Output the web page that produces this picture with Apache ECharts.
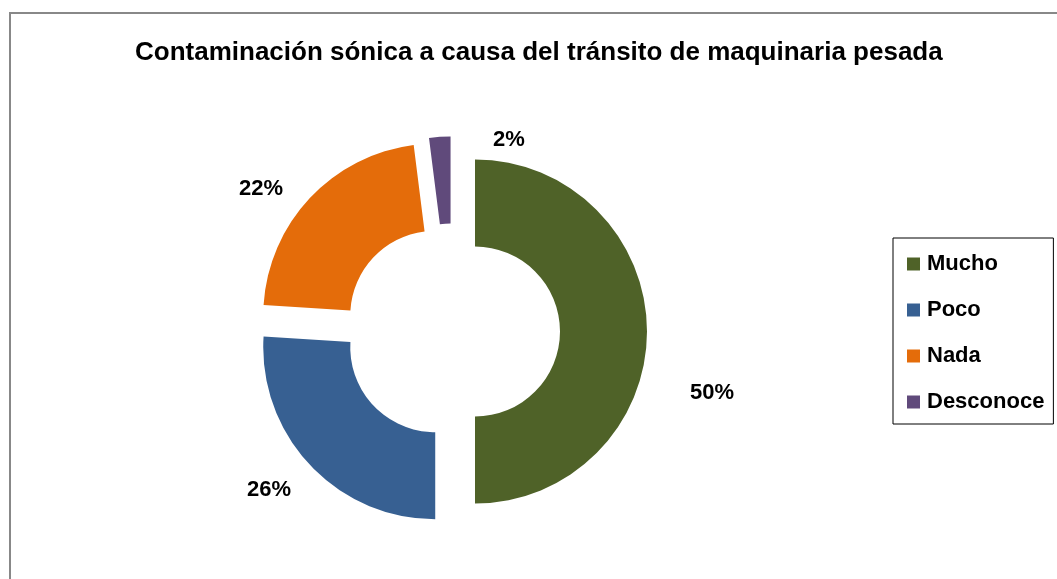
<!DOCTYPE html>
<html>
<head>
<meta charset="utf-8">
<script src="https://cdn.jsdelivr.net/npm/echarts@6/dist/echarts.min.js"></script>
<style>
html,body{margin:0;padding:0;background:#fff;}
#main{width:1057px;height:579px;}
</style>
</head>
<body>
<div id="main"></div>
<script>
var categories = ['Mucho', 'Poco', 'Nada', 'Desconoce'];
var values = [50, 26, 22, 2];
var colors = ['#4F6228', '#376092', '#E46C0A', '#604A7B'];
var titleText = 'Contaminación sónica a causa del tránsito de maquinaria pesada';

var FONT = '"Liberation Sans Narrow", "Arial Narrow", "Liberation Sans", Arial, sans-serif';
// label nudges (pixels) so labels sit where the reference puts them
var labelNudge = [[8, 61], [8, 4], [0, 11], [92, 33]];

var chart = echarts.init(document.getElementById('main'));
var option = {
  backgroundColor: '#ffffff',
  animation: false,
  graphic: [{
    type: 'rect',
    shape: {x: 10, y: 13, width: 1100, height: 620},
    style: {fill: 'none', stroke: '#888888', lineWidth: 2},
    silent: true
  }],
  title: {
    text: titleText,
    left: 130,
    top: 35,
    padding: 5,
    textStyle: {fontFamily: FONT, fontWeight: 'bold', fontSize: 26, color: '#000'}
  },
  legend: {
    orient: 'vertical',
    left: 893,
    top: 238,
    data: categories,
    icon: 'rect',
    itemWidth: 13,
    itemHeight: 13,
    itemGap: 24,
    padding: [15, 9, 11, 14],
    borderColor: '#000',
    borderWidth: 1,
    selectedMode: false,
    textStyle: {fontFamily: FONT, fontWeight: 'bold', fontSize: 22, color: '#000', lineHeight: 22, padding: [0, 0, 0, 2]}
  },
  series: [{
    type: 'pie',
    center: [452, 331.5],
    radius: [85, 172],
    startAngle: 90,
    clockwise: true,
    selectedMode: 'multiple',
    selectedOffset: 23,
    avoidLabelOverlap: false,
    emphasis: {disabled: true},
    label: {
      show: true,
      position: 'outside',
      formatter: function (p) { return Math.round(p.percent) + '%'; },
      fontFamily: FONT, fontWeight: 'bold', fontSize: 22, color: '#000'
    },
    labelLine: {show: false, length: 30, length2: 0},
    labelLayout: function (p) {
      var n = labelNudge[p.dataIndex];
      return {dx: n[0], dy: n[1]};
    },
    data: categories.map(function (c, i) {
      return {name: c, value: values[i], selected: true, itemStyle: {color: colors[i]}};
    })
  }]
};
chart.setOption(option);
</script>
</body>
</html>
